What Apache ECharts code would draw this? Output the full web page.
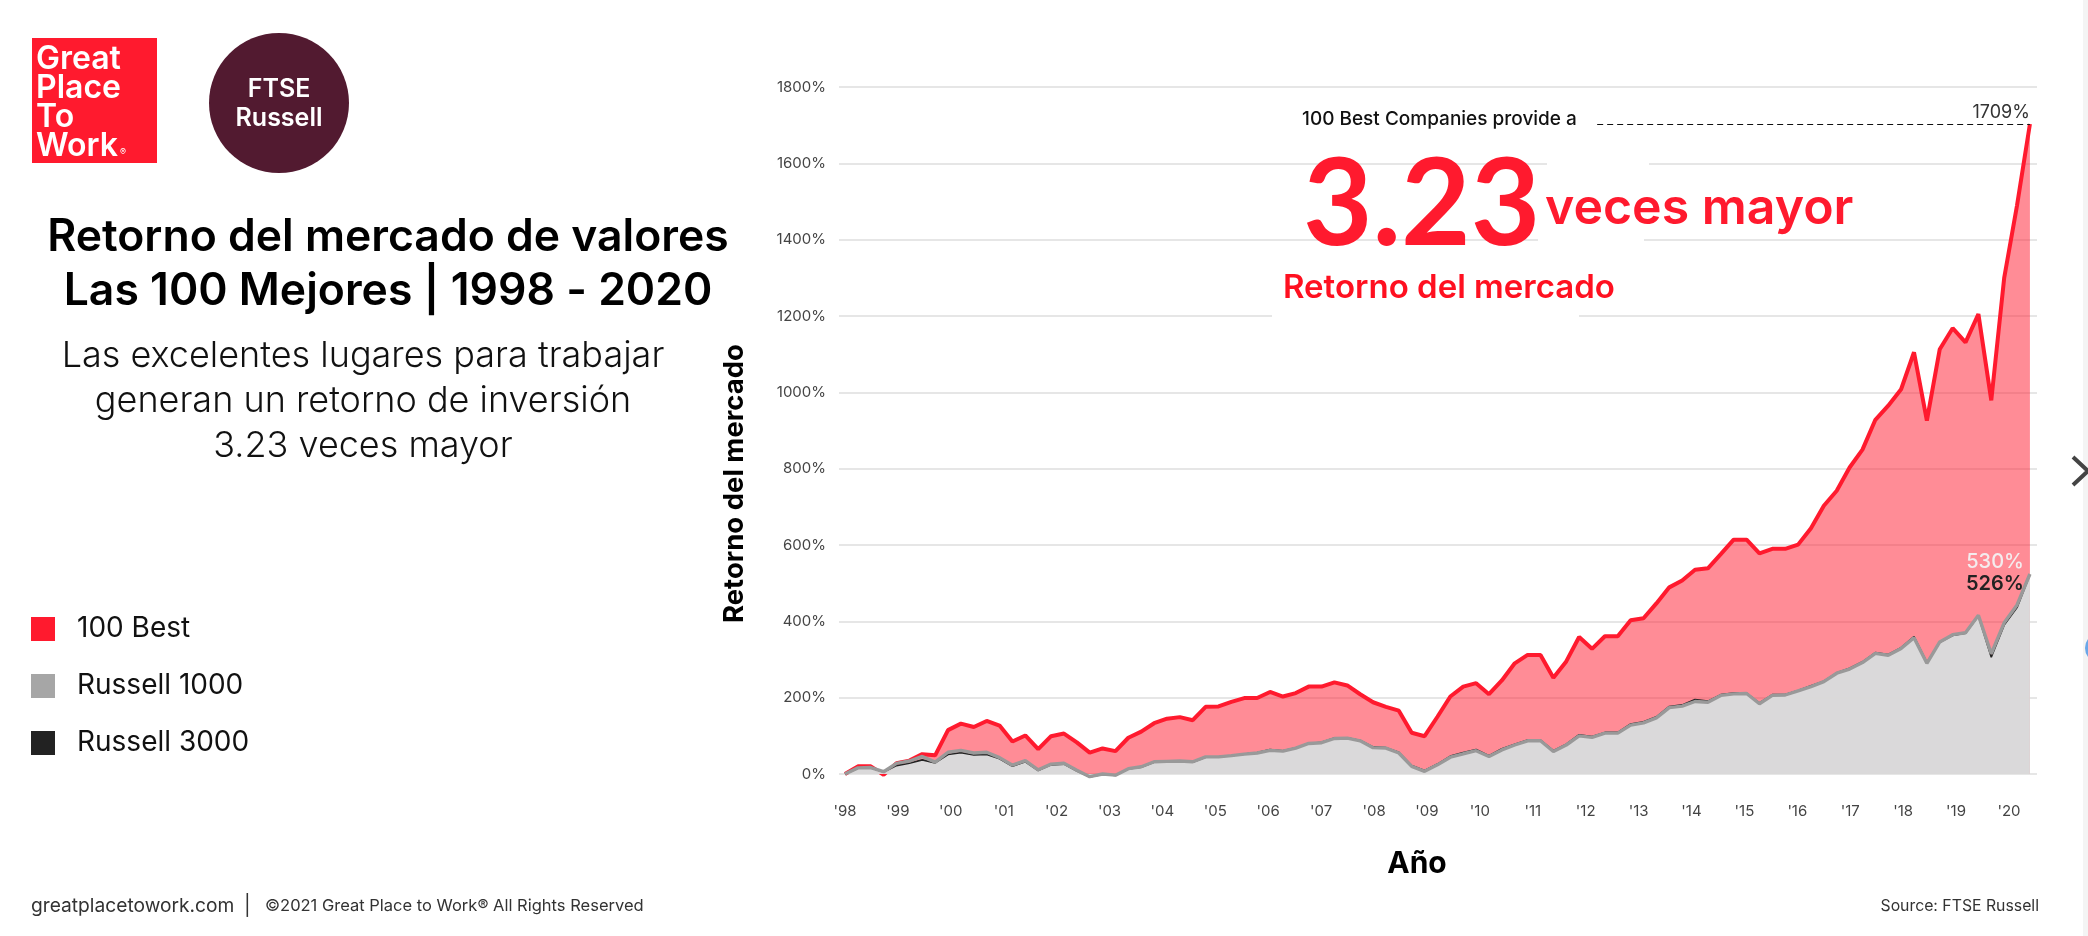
<!DOCTYPE html>
<html>
<head>
<meta charset="utf-8">
<title>Retorno del mercado de valores</title>
<script src="https://cdn.jsdelivr.net/npm/echarts@6/dist/echarts.min.js"></script>
<style>
html,body{margin:0;padding:0;background:#fff;}
#main{width:2088px;height:936px;}
</style>
</head>
<body>
<div id="main"></div>
<script>
// valores, trimestrales
var best100 = [0,20,20,-2,28,35,52,49,115,132,123,139,127,85,101,65,99,106,83,56,67,60,95,111,133,145,149,141,176,177,189,199,199,215,203,212,229,229,240,232,209,188,176,166,108,99,150,203,229,238,209,245,290,312,312,252,295,359,328,361,361,403,408,447,489,507,535,539,576,614,614,578,590,590,601,644,703,742,803,850,928,965,1008,1105,926,1113,1168,1131,1205,979,1299,1490,1703];
var russell1000 = [0,16,17,6,28,34,46,31,57,62,55,57,43,23,35,11,26,28,10,-7,0,-3,14,19,32,33,34,32,45,45,48,52,55,62,60,68,80,82,93,94,87,69,68,55,20,7,24,44,53,61,46,63,76,87,87,59,76,100,96,107,107,128,134,147,174,178,190,188,206,210,211,184,206,207,218,229,242,264,275,292,316,311,329,357,290,346,365,370,416,315,396,443,524];
var russell3000 = [0,15,16,5,22,28,37,29,51,56,50,51,40,20,32,9,24,26,8,-8,-1,-4,13,18,31,32,33,31,44,45,48,52,56,64,61,69,80,83,94,95,88,71,69,57,22,9,26,47,56,64,48,66,78,89,89,61,78,103,98,109,109,131,137,150,177,181,195,191,208,212,212,186,208,208,219,231,243,265,277,294,318,313,331,360,292,345,363,369,414,306,390,436,522];
var yearValues = [1998,1999,2000,2001,2002,2003,2004,2005,2006,2007,2008,2009,2010,2011,2012,2013,2014,2015,2016,2017,2018,2019,2020];
var yearLabels = ["'98","'99","'00","'01","'02","'03","'04","'05","'06","'07","'08","'09","'10","'11","'12","'13","'14","'15","'16","'17","'18","'19","'20"];
var seriesNames = ['100 Best','Russell 1000','Russell 3000'];
var endLabels = ['1709%','530%','526%'];
var leaderFrom = 58.4; // trimestre donde empieza la linea punteada

var FONT = 'Inter';
var RED = '#ff1a2e';

function pairs(arr){
	return arr.map(function(v,i){ return [i,v]; });
}

var chart = echarts.init(document.getElementById('main'));
var option = {
	animation: false,
	backgroundColor: '#fff',
	textStyle: {fontFamily: FONT},
	title: [
		{
			text: 'Retorno del mercado de valores\nLas 100 Mejores | 1998 - 2020',
			left: 383, top: 206, textAlign: 'center',
			textStyle: {fontFamily: FONT, fontSize: 44.5, fontWeight: 600, color: '#000', lineHeight: 54, align: 'center'}
		},
		{
			text: 'Las excelentes lugares para trabajar\ngeneran un retorno de inversión\n3.23 veces mayor',
			left: 358, top: 329, textAlign: 'center',
			textStyle: {fontFamily: FONT, fontSize: 36, fontWeight: 300, color: '#111', lineHeight: 45, align: 'center'}
		}
	],
	legend: {
		data: seriesNames,
		orient: 'vertical',
		left: 31, top: 615, padding: 0,
		itemWidth: 24, itemHeight: 24, itemGap: 29,
		icon: 'rect',
		selectedMode: false,
		textStyle: {fontFamily: FONT, fontSize: 28, color: '#111', lineHeight: 24, padding: [0,0,0,17]}
	},
	grid: {left: 839, top: 87, width: 1198, height: 687, outerBoundsMode: 'none'},
	xAxis: [
		{
			type: 'value', position: 'bottom', min: -0.466, max: 92.55, show: false, splitLine: {show: false}
		},
		{
			type: 'value', position: 'bottom', min: 1997.887, max: 2020.53,
			name: 'Año', nameLocation: 'middle', nameGap: 75,
			nameTextStyle: {fontFamily: FONT, fontSize: 30, fontWeight: 'bold', color: '#000', padding: [0,42,0,0]},
			axisLine: {show: false}, axisTick: {show: false}, splitLine: {show: false},
			axisLabel: {
				customValues: yearValues, margin: 30, fontSize: 15, color: '#444', fontFamily: FONT,
				formatter: function(v){ return yearLabels[yearValues.indexOf(v)]; }
			}
		}
	],
	yAxis: {
		type: 'value', min: 0, max: 1800, interval: 200,
		name: 'Retorno del mercado', nameLocation: 'middle', nameGap: 90,
		nameTextStyle: {fontFamily: FONT, fontSize: 27.5, fontWeight: 'bold', color: '#000', padding: [0,106,0,0]},
		axisLine: {show: false}, axisTick: {show: false},
		axisLabel: {formatter: function(v){ return v + '%'; }, margin: 13, fontSize: 15, color: '#444', fontFamily: FONT},
		splitLine: {lineStyle: {color: '#dedede', width: 1.5}}
	},
	series: [
		{
			name: seriesNames[0], type: 'line', xAxisIndex: 0, data: pairs(best100),
			symbol: 'none', clip: false, z: 2,
			itemStyle: {color: RED},
			lineStyle: {color: RED, width: 4},
			areaStyle: {color: '#ff1a2e', opacity: 0.5},
			endLabel: {show: true, formatter: endLabels[0], align: 'right', verticalAlign: 'bottom', offset: [-8,-2], fontSize: 18, color: '#333', fontFamily: FONT},
			markLine: {
				silent: true, symbol: 'none', label: {show: false},
				lineStyle: {color: '#111', type: [6,4], width: 1.2},
				data: [[{coord: [leaderFrom, best100[best100.length-1]]},{coord: [best100.length-1, best100[best100.length-1]]}]]
			}
		},
		{
			name: seriesNames[2], type: 'line', xAxisIndex: 0, data: pairs(russell3000),
			symbol: 'none', clip: false, z: 3,
			itemStyle: {color: '#222'},
			lineStyle: {color: '#222', width: 1.6},
			areaStyle: {color: '#d9dcdc', opacity: 0.97},
			endLabel: {show: true, formatter: endLabels[2], align: 'right', verticalAlign: 'middle', offset: [-14,9], fontSize: 20, fontWeight: 600, color: '#222', fontFamily: FONT}
		},
		{
			name: seriesNames[1], type: 'line', xAxisIndex: 0, data: pairs(russell1000),
			symbol: 'none', clip: false, z: 4,
			itemStyle: {color: '#a6a6a6'},
			lineStyle: {color: '#999', width: 3.4},
			endLabel: {show: true, formatter: endLabels[1], align: 'right', verticalAlign: 'middle', offset: [-14,-12], fontSize: 20, fontWeight: 500, color: '#f4ecee', fontFamily: FONT}
		}
	],
	graphic: [
		// parches blancos sobre la cuadricula, como en el original
		{type: 'rect', z: 5, shape: {x: 1272, y: 306, width: 307, height: 22}, style: {fill: '#fff'}},
		{type: 'rect', z: 5, shape: {x: 1547, y: 155, width: 102, height: 16}, style: {fill: '#fff'}},
		{type: 'rect', z: 5, shape: {x: 1538, y: 232, width: 106, height: 16}, style: {fill: '#fff'}},
		// logos
		{type: 'rect', z: 6, shape: {x: 32, y: 38, width: 125, height: 125}, style: {fill: RED}},
		{type: 'text', z: 7, x: 36, y: 45, style: {text: 'Great\nPlace\nTo\nWork', fill: '#fff', font: '600 32px ' + FONT, lineHeight: 29}},
		{type: 'text', z: 7, x: 120, y: 148, style: {text: '®', fill: '#fff', font: '9px ' + FONT}},
		{type: 'circle', z: 6, shape: {cx: 279, cy: 103, r: 70}, style: {fill: '#521a30'}},
		{type: 'text', z: 7, x: 279, y: 75, style: {text: 'FTSE\nRussell', fill: '#fff', font: '600 25px ' + FONT, lineHeight: 29, align: 'center'}},
		// anotacion
		{type: 'text', z: 7, x: 1302, y: 110, style: {text: '100 Best Companies provide a', fill: '#111', font: '500 19px ' + FONT}},
		{type: 'text', z: 7, x: 1303, y: 146, style: {text: '3.23', fill: RED, font: 'bold 120px Lato'}},
		{type: 'text', z: 7, x: 1545, y: 184, style: {text: 'veces mayor', fill: RED, font: '600 50px ' + FONT}},
		{type: 'text', z: 7, x: 1283, y: 272, style: {text: 'Retorno del mercado', fill: '#ff1020', font: '600 33px ' + FONT}},
		// pie
		{type: 'text', z: 7, x: 31, y: 897, style: {text: 'greatplacetowork.com', fill: '#333', font: '19.2px ' + FONT}},
		{type: 'text', z: 7, x: 244, y: 896, style: {text: '|', fill: '#333', font: '20px ' + FONT}},
		{type: 'text', z: 7, x: 265, y: 898, style: {text: '©2021 Great Place to Work® All Rights Reserved', fill: '#333', font: '16.5px ' + FONT}},
		{type: 'text', z: 7, x: 2039, y: 898, style: {text: 'Source: FTSE Russell', fill: '#333', font: '15.8px ' + FONT, align: 'right'}},
		// borde de la captura
		{type: 'rect', z: 1, shape: {x: 2083, y: 0, width: 5, height: 936}, style: {fill: '#f4f4f4'}},
		{type: 'polyline', z: 7, shape: {points: [[2073,457],[2088,471],[2073,485]]}, style: {stroke: '#444', lineWidth: 4, fill: 'none'}},
		{type: 'circle', z: 7, shape: {cx: 2100, cy: 648, r: 15}, style: {fill: '#6aa7e8'}}
	]
};
chart.setOption(option);
</script>
</body>
</html>
